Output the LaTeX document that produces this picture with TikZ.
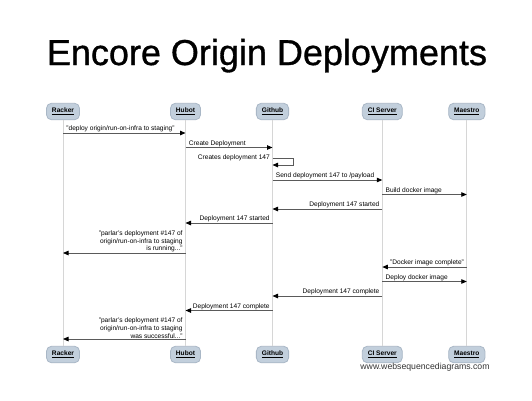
\documentclass[tikz,border=0pt]{standalone}
\usepackage{fontspec}
\setmainfont{Liberation Sans}
\newfontfamily\titlefont[FakeBold=0.9]{Liberation Sans}
\usetikzlibrary{arrows.meta}
\definecolor{boxfill}{HTML}{C2CFDC}
\definecolor{boxline}{HTML}{A9B7C6}
\definecolor{lifegray}{HTML}{D6D6D6}
\definecolor{msggray}{HTML}{5A5A5A}
\definecolor{footgray}{HTML}{333333}
\newcommand{\msgfont}{\fontsize{6.6}{7.6}\selectfont}
\begin{document}
\begin{tikzpicture}[x=1pt,y=-1pt,
  part/.style={draw=boxline, fill=boxfill, rounded corners=5pt, line width=0.8pt,
    minimum height=16.5pt, inner xsep=5.5pt, inner ysep=0pt,
    font=\msgfont\bfseries},
  life/.style={draw=lifegray, line width=0.9pt},
  msg/.style={draw=msggray, line width=0.8pt,
    -{Triangle[length=5.5pt,width=4.5pt,color=black]}},
  lblR/.style={anchor=south west, inner sep=0.5pt, xshift=2.5pt, font=\msgfont},
  lblL/.style={anchor=south east, inner sep=0.5pt, xshift=-2pt, font=\msgfont, align=right},
  titlestyle/.style={anchor=base, inner sep=0pt, font=\titlefont\fontsize{36}{40}\selectfont},
  footstyle/.style={inner sep=0pt, text=footgray, font=\fontsize{8.7}{10}\selectfont}
]
\useasboundingbox[fill=white] (0,0) rectangle (532,400);

\node[titlestyle] (title) at (267,65) {Encore Origin Deployments};

% participants top
\node[part] (rt) at (63,111.5) {\underline{Racker}};
\node[part] (ht) at (185.5,111.5) {\underline{Hubot}};
\node[part] (gt) at (272.5,111.5) {\underline{Github}};
\node[part] (ct) at (382.3,111.5) {\underline{CI Server}};
\node[part] (mt) at (466.8,111.5) {\underline{Maestro}};
% participants bottom
\node[part] (rb) at (63,354.5) {\underline{Racker}};
\node[part] (hb) at (185.5,354.5) {\underline{Hubot}};
\node[part] (gb) at (272.5,354.5) {\underline{Github}};
\node[part] (cb) at (382.3,354.5) {\underline{CI Server}};
\node[part] (mb) at (466.8,354.5) {\underline{Maestro}};

% lifelines
\draw[life] (rt) -- (rb);
\draw[life] (ht) -- (hb);
\draw[life] (gt) -- (gb);
\draw[life] (ct) -- (cb);
\draw[life] (mt) -- (mb);

% message end points
\coordinate (r1) at (rt |- 0,133);
\coordinate (h1) at (ht |- 0,133);
\coordinate (h2) at (ht |- 0,147.5);
\coordinate (g2) at (gt |- 0,147.5);
\coordinate (g3a) at (gt |- 0,158);
\coordinate (g3b) at (gt |- 0,165);
\coordinate (g3c) at (293.5,158);
\coordinate (g4) at (gt |- 0,180);
\coordinate (c4) at (ct |- 0,180);
\coordinate (c5) at (ct |- 0,194.5);
\coordinate (m5) at (mt |- 0,194.5);
\coordinate (c6) at (ct |- 0,209);
\coordinate (g6) at (gt |- 0,209);
\coordinate (g7) at (gt |- 0,223);
\coordinate (h7) at (ht |- 0,223);
\coordinate (h8) at (ht |- 0,253);
\coordinate (r8) at (rt |- 0,253);
\coordinate (m9) at (mt |- 0,267);
\coordinate (c9) at (ct |- 0,267);
\coordinate (c10) at (ct |- 0,281.5);
\coordinate (m10) at (mt |- 0,281.5);
\coordinate (c11) at (ct |- 0,296);
\coordinate (g11) at (gt |- 0,296);
\coordinate (g12) at (gt |- 0,310.5);
\coordinate (h12) at (ht |- 0,310.5);
\coordinate (h13) at (ht |- 0,339);
\coordinate (r13) at (rt |- 0,339);

% messages
\draw[msg] (r1) -- (h1) node[pos=0, lblR] {"deploy origin/run-on-infra to staging"};
\draw[msg] (h2) -- (g2) node[pos=0, lblR] {Create Deployment};
\draw[msg] (g3a) -- (g3c) |- (g3b);
\node[anchor=east, inner sep=0.5pt, font=\msgfont] (selflbl) at ([xshift=-2pt]g3a) {Creates deployment 147};
\draw[msg] (g4) -- (c4) node[pos=0, lblR] {Send deployment 147 to /payload};
\draw[msg] (c5) -- (m5) node[pos=0, lblR] {Build docker image};
\draw[msg] (c6) -- (g6) node[pos=0, lblL] {Deployment 147 started};
\draw[msg] (g7) -- (h7) node[pos=0, lblL] {Deployment 147 started};
\draw[msg] (h8) -- (r8) node[pos=0, lblL] {"parlar's deployment \#147 of\\origin/run-on-infra to staging\\is running..."};
\draw[msg] (m9) -- (c9) node[pos=0, lblL] {"Docker image complete"};
\draw[msg] (c10) -- (m10) node[pos=0, lblR] {Deploy docker image};
\draw[msg] (c11) -- (g11) node[pos=0, lblL] {Deployment 147 complete};
\draw[msg] (g12) -- (h12) node[pos=0, lblL] {Deployment 147 complete};
\draw[msg] (h13) -- (r13) node[pos=0, lblL] {"parlar's deployment \#147 of\\origin/run-on-infra to staging\\was successful..."};

\node[footstyle] (foot) at (425,367) {www.websequencediagrams.com};
\end{tikzpicture}
\end{document}
